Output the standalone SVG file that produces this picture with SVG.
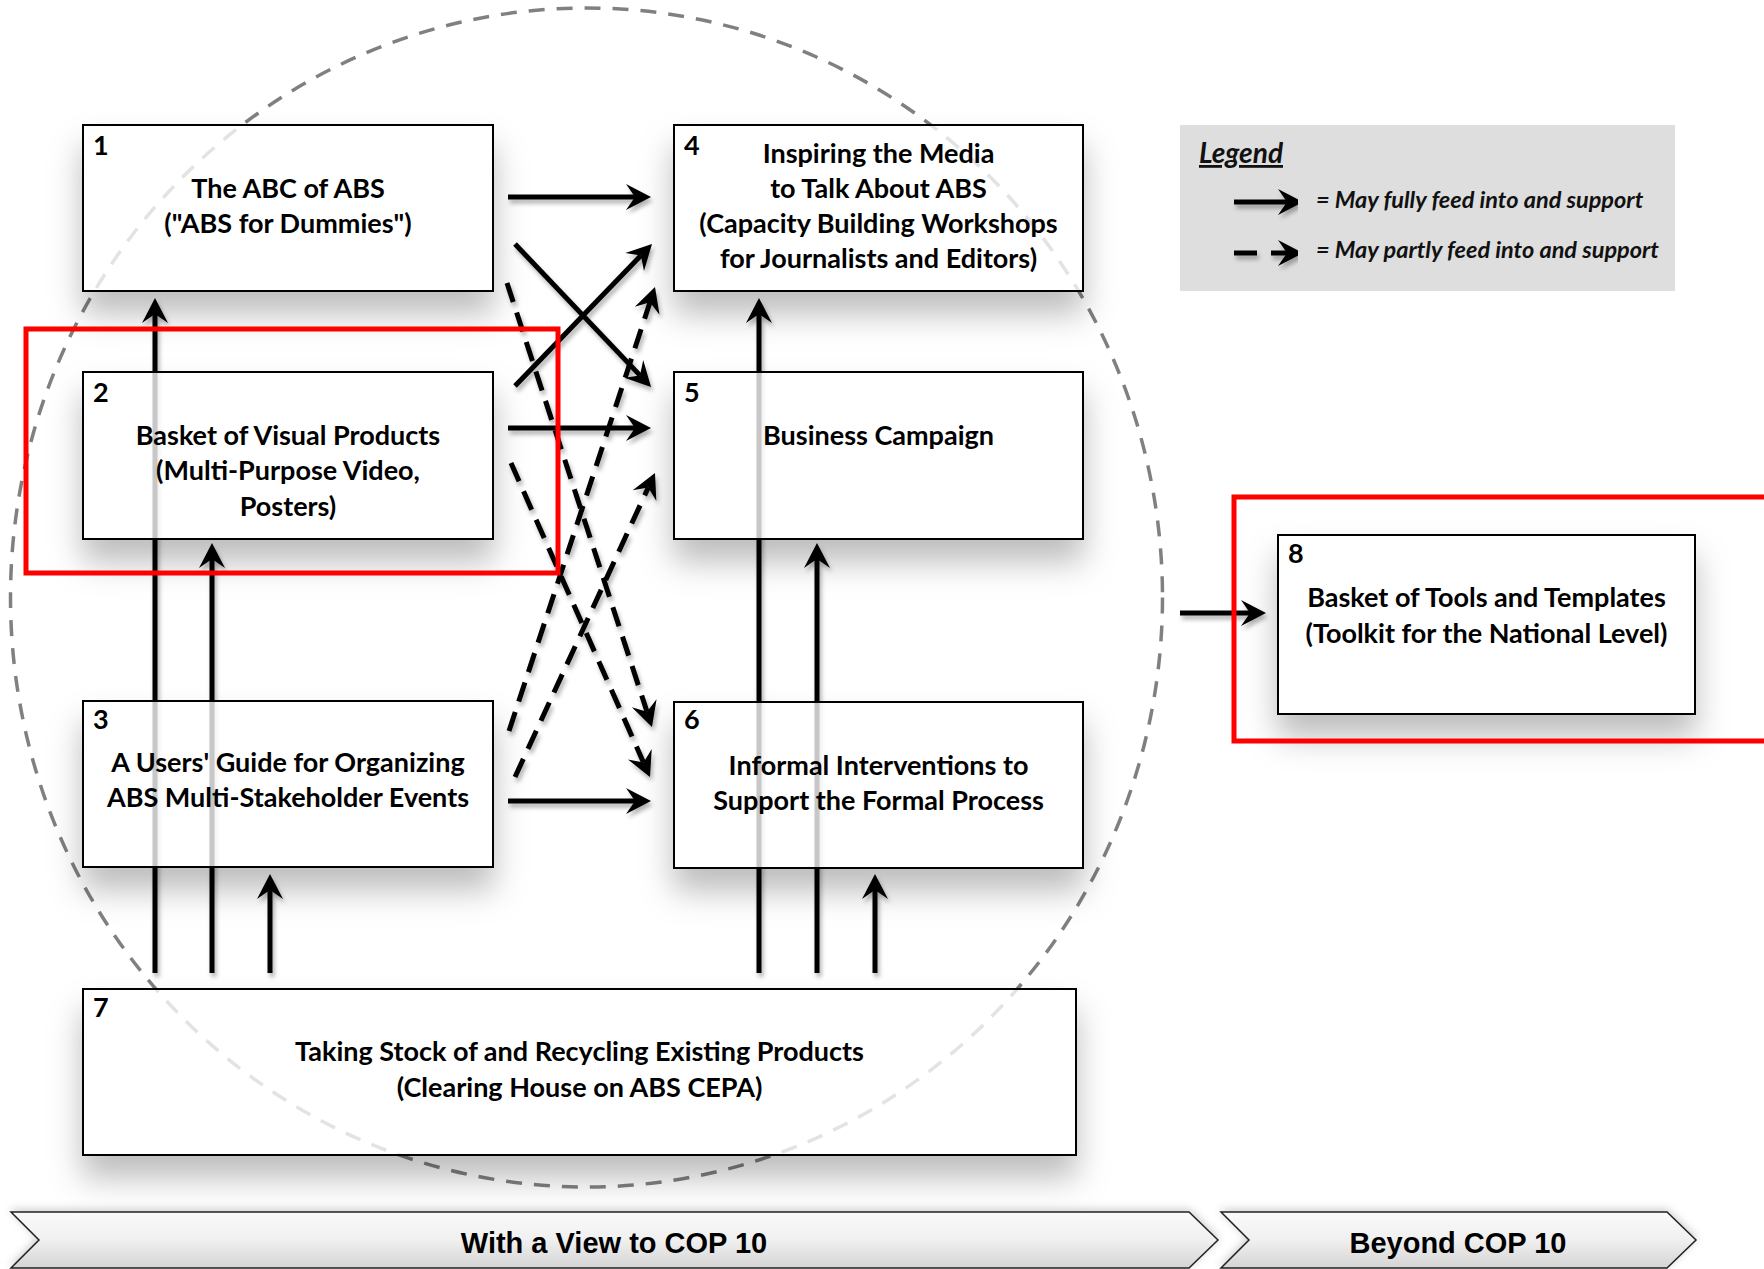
<svg xmlns="http://www.w3.org/2000/svg" width="1764" height="1269" viewBox="0 0 1764 1269">
<defs>
<style>
.box{fill:#fff;fill-opacity:0.78;stroke:#000;stroke-width:2;filter:url(#sh)}
.t{font-family:Lato,"Open Sans",sans-serif;font-weight:700;font-size:27px;fill:#000;text-anchor:middle}
.n{font-family:Lato,"Open Sans",sans-serif;font-weight:700;font-size:27px;fill:#000}
.c{fill:none;stroke:#000;stroke-width:5;marker-end:url(#ah)}
.d{stroke-dasharray:20 11}
.lg{font-family:Lato,"Open Sans",sans-serif;font-weight:700;font-style:italic;fill:#111}
.red{fill:none;stroke:#f00;stroke-width:5}
.chev{fill:url(#cg);stroke:#222;stroke-width:1.5;filter:url(#csh)}
.ct{font-family:"Liberation Sans",Arial,sans-serif;font-weight:700;font-size:29px;fill:#000;text-anchor:middle}
</style>
<marker id="ah" viewBox="-28 -15 30 30" refX="-16" refY="0" markerWidth="30" markerHeight="30" markerUnits="userSpaceOnUse" orient="auto">
<path d="M0,0 L-25,-13 L-16,0 L-25,13 Z" fill="#000"/>
</marker>
<filter id="sh" x="-20%" y="-30%" width="140%" height="180%">
<feComponentTransfer in="SourceAlpha" result="a"><feFuncA type="linear" slope="20"/></feComponentTransfer>
<feGaussianBlur in="a" stdDeviation="16" result="b"/>
<feOffset in="b" dy="22" result="c"/>
<feFlood flood-color="#000" flood-opacity="0.26"/>
<feComposite operator="in" in2="c" result="d"/>
<feComposite in="d" in2="a" operator="out" result="e"/>
<feMerge><feMergeNode in="e"/><feMergeNode in="SourceGraphic"/></feMerge>
</filter>
<filter id="lsh" x="-10%" y="-50%" width="130%" height="250%">
<feDropShadow dx="2" dy="4" stdDeviation="2" flood-color="#000" flood-opacity="0.3"/>
</filter>
<filter id="csh" x="-5%" y="-30%" width="110%" height="180%">
<feDropShadow dx="0" dy="-2" stdDeviation="4" flood-color="#000" flood-opacity="0.2"/>
</filter>
<linearGradient id="cg" x1="0" y1="0" x2="0" y2="1">
<stop offset="0" stop-color="#fafafa"/>
<stop offset="0.5" stop-color="#f0f0f0"/>
<stop offset="1" stop-color="#d4d4d4"/>
</linearGradient>
</defs>

<g id="scope-circle">
<ellipse cx="586.5" cy="597.5" rx="576" ry="589.5" fill="none" stroke="#808080" stroke-width="3.5" stroke-dasharray="16 12"/>
</g>

<g id="connectors" filter="url(#lsh)">
<path class="c" d="M508,197 H635"/>
<path class="c" d="M508,428 H635"/>
<path class="c" d="M508,801 H635"/>
<path class="c" d="M515,244 L640,375.4"/>
<path class="c" d="M515,386 L640.9,255.5"/>
<path class="c d" d="M507,283 L647,711.8"/>
<path class="c d" d="M511,463 L643.5,762.4"/>
<path class="c d" d="M509,731 L650,302.2"/>
<path class="c d" d="M515,777 L648.3,487.5"/>
<path class="c" d="M155,973 V314"/>
<path class="c" d="M212,973 V559"/>
<path class="c" d="M270,973 V890"/>
<path class="c" d="M759,973 V314"/>
<path class="c" d="M817,973 V559"/>
<path class="c" d="M875,973 V890"/>
<path class="c" d="M1180,613 H1250"/>
</g>

<g id="node1">
<rect class="box" x="83" y="125" width="410" height="166"/>
<text class="n" x="93" y="155">1</text>
<text class="t" x="288" y="198">The ABC of ABS</text>
<text class="t" x="288" y="233">("ABS for Dummies")</text>
</g>
<g id="node2">
<rect class="box" x="83" y="372" width="410" height="167"/>
<text class="n" x="93" y="402">2</text>
<text class="t" x="288" y="445">Basket of Visual Products</text>
<text class="t" x="288" y="480">(Multi-Purpose Video,</text>
<text class="t" x="288" y="516">Posters)</text>
</g>
<g id="node3">
<rect class="box" x="83" y="701" width="410" height="166"/>
<text class="n" x="93" y="729">3</text>
<text class="t" x="288" y="772">A Users' Guide for Organizing</text>
<text class="t" x="288" y="807">ABS Multi-Stakeholder Events</text>
</g>
<g id="node4">
<rect class="box" x="674" y="125" width="409" height="166"/>
<text class="n" x="684" y="155">4</text>
<text class="t" x="878.5" y="163">Inspiring the Media</text>
<text class="t" x="878.5" y="198">to Talk About ABS</text>
<text class="t" x="878.5" y="233">(Capacity Building Workshops</text>
<text class="t" x="878.5" y="268">for Journalists and Editors)</text>
</g>
<g id="node5">
<rect class="box" x="674" y="372" width="409" height="167"/>
<text class="n" x="684" y="402">5</text>
<text class="t" x="878.5" y="445">Business Campaign</text>
</g>
<g id="node6">
<rect class="box" x="674" y="702" width="409" height="166"/>
<text class="n" x="684" y="729">6</text>
<text class="t" x="878.5" y="775">Informal Interventions to</text>
<text class="t" x="878.5" y="810">Support the Formal Process</text>
</g>
<g id="node7">
<rect class="box" x="83" y="989" width="993" height="166"/>
<text class="n" x="93" y="1017">7</text>
<text class="t" x="579.5" y="1061">Taking Stock of and Recycling Existing Products</text>
<text class="t" x="579.5" y="1097">(Clearing House on ABS CEPA)</text>
</g>
<g id="node8">
<rect class="box" x="1278" y="535" width="417" height="179"/>
<text class="n" x="1288" y="563">8</text>
<text class="t" x="1486.5" y="607">Basket of Tools and Templates</text>
<text class="t" x="1486.5" y="643">(Toolkit for the National Level)</text>
</g>

<g id="legend">
<rect x="1180" y="125" width="495" height="166" fill="#dedede"/>
<text class="lg" x="1199" y="163" font-size="28" text-decoration="underline">Legend</text>
<g filter="url(#lsh)">
<path class="c" d="M1234,202 H1287"/>
<path d="M1234,253 H1257" stroke="#000" stroke-width="5"/>
<path class="c" d="M1271,253 H1287"/>
</g>
<text class="lg" x="1316" y="208" font-size="23.5">= May fully feed into and support</text>
<text class="lg" x="1316" y="258" font-size="23.5">= May partly feed into and support</text>
</g>

<g id="highlight-2">
<rect class="red" x="26" y="329" width="532" height="244"/>
</g>
<g id="highlight-8">
<rect class="red" x="1234" y="497" width="540" height="244"/>
</g>

<g id="phase-cop10">
<path class="chev" d="M11,1212 H1189 L1218,1240 L1189,1268 H11 L39,1240 Z"/>
<text class="ct" x="614" y="1253">With a View to COP 10</text>
</g>
<g id="phase-beyond">
<path class="chev" d="M1221,1212 H1667 L1696,1240 L1667,1268 H1221 L1249,1240 Z"/>
<text class="ct" x="1458" y="1253">Beyond COP 10</text>
</g>
</svg>
